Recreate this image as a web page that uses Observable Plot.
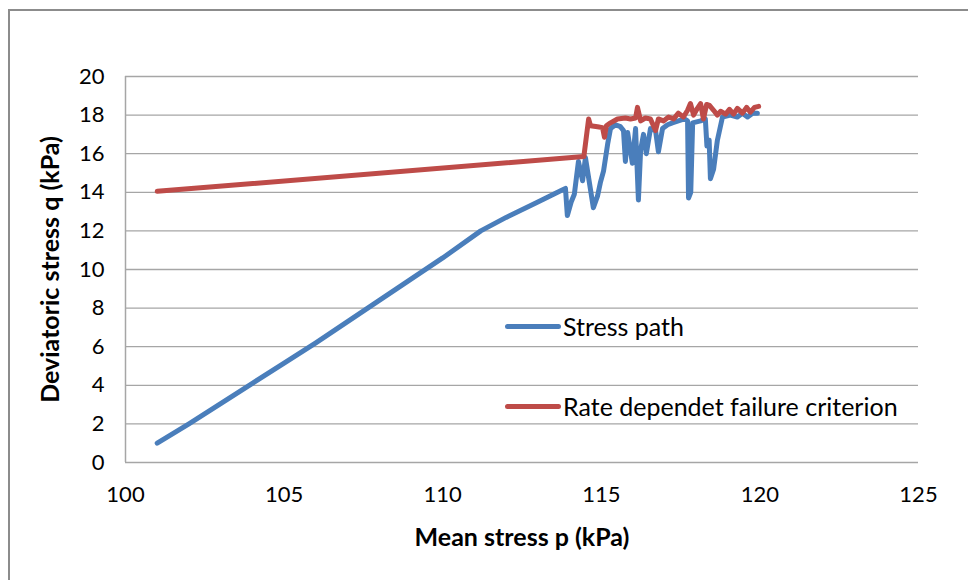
<!DOCTYPE html>
<html>
<head>
<meta charset="utf-8">
<script src="https://cdn.jsdelivr.net/npm/d3@7"></script>
<script src="https://cdn.jsdelivr.net/npm/@observablehq/plot@0.6"></script>
<style>
  body { margin: 0; background: #fff; font-family: Lato, "Liberation Sans", sans-serif; }
  #wrap { position: relative; width: 968px; height: 580px; overflow: hidden; background: #fff; }
  #frame { position: absolute; left: 8px; top: 9px; width: 1100px; height: 700px;
           border-left: 2px solid #8c8c8c; border-top: 2px solid #8c8c8c; pointer-events: none; }
  #chart { position: absolute; left: 0; top: 0; }
  .legend { position: absolute; left: 505px; display: flex; align-items: center;
            font-size: 25px; color: #000; white-space: nowrap; line-height: 26px; }
  .legend .sw { width: 56px; height: 5px; border-radius: 2.5px; margin-right: 2px; }
</style>
</head>
<body>
<div id="wrap">
  <div id="chart"></div>
  <div id="frame"></div>
  <div class="legend" style="top:313px"><span class="sw" style="background:#4a7ebb"></span><span>Stress path</span></div>
  <div class="legend" style="top:393px"><span class="sw" style="background:#be4b48"></span><span>Rate dependet failure criterion</span></div>
</div>
<script>
// Axis ticks
const xTicks = [100, 105, 110, 115, 120, 125];
const yTicks = [0, 2, 4, 6, 8, 10, 12, 14, 16, 18, 20];

// Stress path: mean stress p (kPa) and deviatoric stress q (kPa)
const pathP = [101.0, 102.0, 103.0, 104.0, 105.0, 106.0, 107.0, 108.0, 109.0, 110.0, 111.2, 112.0, 113.0, 113.75,
  113.87, 113.93, 114.05, 114.15, 114.28, 114.41, 114.50, 114.75, 114.88, 114.97, 115.07, 115.2, 115.29, 115.45,
  115.6, 115.7, 115.76, 115.83, 115.98, 116.08, 116.17, 116.24, 116.33, 116.42, 116.55, 116.71, 116.8, 116.93,
  117.09, 117.24, 117.43, 117.62, 117.72, 117.75, 117.82, 117.88, 118.13, 118.28, 118.33, 118.4, 118.44, 118.54,
  118.66, 118.82, 119.07, 119.29, 119.45, 119.61, 119.77, 119.92];
const pathQ = [1.0, 2.0, 3.05, 4.1, 5.15, 6.2, 7.3, 8.4, 9.5, 10.6, 12.0, 12.7, 13.5, 14.1,
  14.2, 12.8, 13.5, 13.9, 15.6, 14.6, 15.8, 13.2, 13.8, 14.5, 15.1, 16.5, 17.3, 17.5,
  17.4, 17.2, 15.6, 17.1, 15.5, 17.3, 13.6, 16.2, 17.0, 16.0, 17.3, 17.2, 16.1, 17.3,
  17.5, 17.6, 17.7, 17.8, 17.7, 13.7, 14.0, 17.6, 17.7, 17.8, 16.4, 16.7, 14.7, 15.2,
  16.7, 17.9, 18.0, 17.9, 18.1, 17.9, 18.1, 18.1];

// Rate dependent failure criterion
const critP = [101.0, 114.45, 114.6, 114.66, 114.88, 115.04, 115.1, 115.16, 115.29, 115.51, 115.76, 115.92, 116.08,
  116.14, 116.24, 116.39, 116.55, 116.71, 116.8, 116.96, 117.12, 117.28, 117.43, 117.59, 117.72, 117.81, 117.91,
  118.03, 118.13, 118.22, 118.32, 118.41, 118.54, 118.66, 118.76, 118.92, 119.04, 119.17, 119.29, 119.45, 119.58,
  119.7, 119.83, 119.96];
const critQ = [14.05, 15.85, 17.8, 17.45, 17.4, 17.35, 16.85, 17.45, 17.6, 17.8, 17.85, 17.8, 17.85,
  18.4, 17.7, 17.85, 17.8, 17.2, 17.8, 17.7, 17.9, 17.8, 18.1, 17.9, 18.25, 18.6, 18.0,
  18.35, 18.6, 17.8, 18.55, 18.5, 18.25, 18.0, 18.2, 18.05, 18.3, 18.05, 18.35, 18.1, 18.4,
  18.15, 18.4, 18.45];

const pathRows = pathP.map((p, i) => ({p, q: pathQ[i]}));
const critRows = critP.map((p, i) => ({p, q: critQ[i]}));

const gridColor = "#a6a6a6";

const chart = Plot.plot({
  width: 968,
  height: 580,
  marginLeft: 125,
  marginRight: 50,
  marginTop: 76,
  marginBottom: 118,
  style: { fontFamily: "Lato, 'Liberation Sans', sans-serif", fontSize: "22px", color: "#000", background: "transparent" },
  x: { domain: [100, 125] },
  y: { domain: [0, 20] },
  marks: [
    Plot.ruleY(yTicks.slice(1), { stroke: gridColor, strokeWidth: 1.3 }),
    Plot.ruleY([0], { stroke: gridColor, strokeWidth: 1.5 }),
    Plot.ruleX([100], { stroke: gridColor, strokeWidth: 1.5 }),
    Plot.axisX({ ticks: xTicks, tickSize: 0, tickPadding: 24, label: null, fontSize: 22, tickFormat: d => String(d) }),
    Plot.axisY({ ticks: yTicks, tickSize: 0, tickPadding: 21, label: null, fontSize: 22, tickFormat: d => String(d) }),
    Plot.line(pathRows, { x: "p", y: "q", stroke: "#4a7ebb", strokeWidth: 5, strokeLinejoin: "round", strokeLinecap: "round" }),
    Plot.line(critRows, { x: "p", y: "q", stroke: "#be4b48", strokeWidth: 5, strokeLinejoin: "round", strokeLinecap: "round" }),
    Plot.text(["Mean stress p (kPa)"], { frameAnchor: "bottom", dy: 75, textAnchor: "middle", lineAnchor: "middle", fontWeight: "bold", fontSize: 25 }),
    Plot.text(["Deviatoric stress q (kPa)"], { frameAnchor: "left", dx: -75, textAnchor: "middle", lineAnchor: "middle", rotate: -90, fontWeight: "bold", fontSize: 25 })
  ]
});
document.getElementById("chart").appendChild(chart);
</script>
</body>
</html>
